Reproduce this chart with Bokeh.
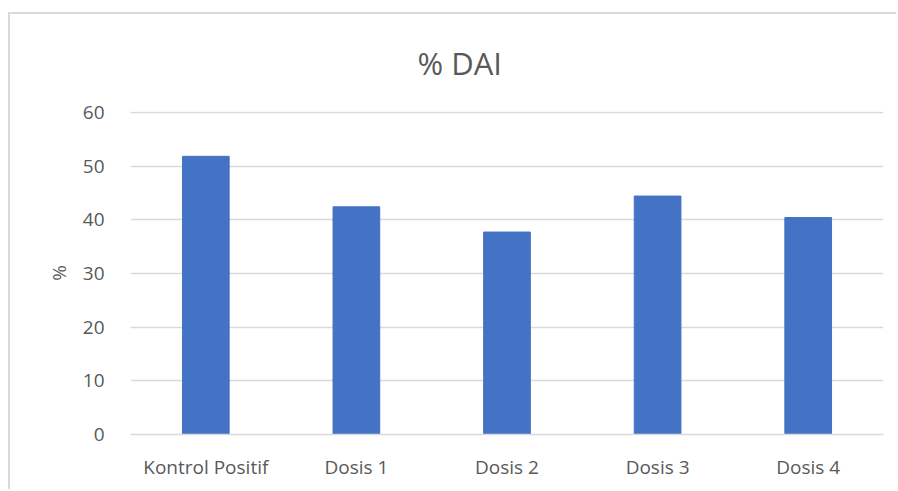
from bokeh.plotting import figure
from bokeh.models import FactorRange, Range1d
from bokeh.embed import file_html
from bokeh.resources import INLINE

categories = ["Kontrol Positif", "Dosis 1", "Dosis 2", "Dosis 3", "Dosis 4"]
values = [51.8, 42.4, 37.7, 44.4, 40.4]
y_ticks = [0, 10, 20, 30, 40, 50, 60]

TEXT = "#595959"
GRID = "#D9D9D9"
FONT = "Open Sans"

p = figure(
    x_range=FactorRange(*categories),
    y_range=Range1d(0, 60.15),
    width=888, height=477,
    output_backend="svg", toolbar_location=None,
    min_border_left=120, min_border_right=15,
    min_border_top=97, min_border_bottom=57,
    title="% DAI",
)

p.vbar(x=categories, top=values, width=0.31, fill_color="#4472C4", line_color="#4472C4")

p.title.align = "left"
p.title.offset = 287
p.title.vertical_align = "top"
p.title.standoff = 52
p.title.text_font = FONT
p.title.text_font_size = "31px"
p.title.text_font_style = "normal"
p.title.text_color = TEXT

p.yaxis.ticker = y_ticks
p.yaxis.axis_line_color = None
p.yaxis.major_tick_line_color = None
p.yaxis.minor_tick_line_color = None
p.yaxis.axis_label = "%"
p.yaxis.axis_label_text_font = FONT
p.yaxis.axis_label_text_font_size = "19px"
p.yaxis.axis_label_text_font_style = "normal"
p.yaxis.axis_label_text_color = TEXT
p.yaxis.axis_label_standoff = 8
p.yaxis.major_label_standoff = 20
p.yaxis.major_label_text_font = FONT
p.yaxis.major_label_text_font_size = "19px"
p.yaxis.major_label_text_color = TEXT

p.xaxis.axis_line_color = GRID
p.xaxis.axis_line_width = 1.5
p.xaxis.major_tick_line_color = None
p.xaxis.minor_tick_line_color = None
p.xaxis.major_label_standoff = 13
p.xaxis.major_label_text_font = FONT
p.xaxis.major_label_text_font_size = "19px"
p.xaxis.major_label_text_color = TEXT

p.xgrid.grid_line_color = None
p.ygrid.grid_line_color = GRID
p.ygrid.grid_line_width = 1.5
p.outline_line_color = None

p.styles = {"border-left": "2px solid #D9D9D9", "border-top": "2px solid #D9D9D9"}
p.margin = (12, 0, 0, 8)

open("out.html", "w").write(file_html(p, INLINE))
